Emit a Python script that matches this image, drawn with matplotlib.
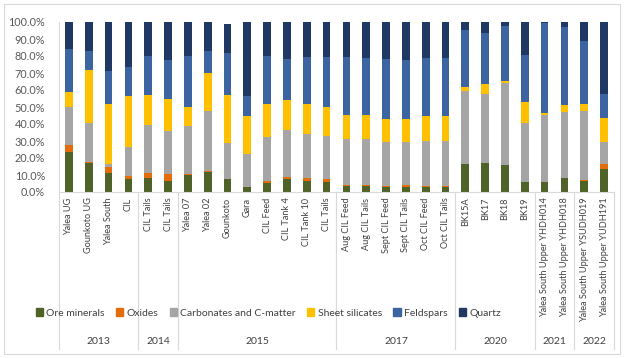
import matplotlib
matplotlib.use("Agg")
import matplotlib.pyplot as plt
from matplotlib.patches import Patch, Rectangle
from matplotlib.ticker import FuncFormatter
import numpy as np

plt.rcParams['font.family'] = ['Lato', 'DejaVu Sans']

labels = ["Yalea UG", "Gounkoto UG", "Yalea South", "CIL",
          "CIL Tails", "CIL Tails",
          "Yalea 07", "Yalea 02", "Gounkoto", "Gara", "CIL Feed", "CIL Tank 4", "CIL Tank 10", "CIL Tails",
          "Aug CIL Feed", "Aug CIL Tails", "Sept CIL Feed", "Sept CIL Tails", "Oct CIL Feed", "Oct CIL Tails",
          "BK15A", "BK17", "BK18", "BK19",
          "Yalea South Upper YHDH014", "Yalea South Upper YHDH018",
          "Yalea South Upper YSUDH019", "Yalea South Upper YUDH191"]
years = ["2013", "2014", "2015", "2017", "2020", "2021", "2022"]
year_counts = [4, 2, 8, 6, 4, 2, 2]

# values in %
ore = [23.7, 17.1, 11.4, 7.5, 8.2, 6.7, 10.2, 11.8, 7.6, 3.1, 5.3, 7.5, 6.7, 6.1,
       3.7, 3.7, 3.1, 3.1, 2.9, 3.0, 16.7, 17.1, 15.9, 5.7, 5.7, 8.4, 6.7, 13.3]
oxides = [3.9, 0.5, 3.3, 2.1, 3.2, 3.7, 0.2, 0.6, 0.2, 0.0, 1.4, 1.3, 1.3, 1.4,
          0.6, 0.6, 0.6, 0.8, 0.6, 0.6, 0.0, 0.0, 0.0, 0.0, 0.0, 0.0, 0.6, 3.4]
carb = [22.6, 23.2, 1.6, 16.7, 28.2, 25.5, 28.4, 35.2, 20.8, 19.3, 25.7, 27.7, 26.3, 25.4,
        26.9, 26.9, 25.9, 25.3, 26.7, 26.5, 42.9, 40.7, 48.2, 35.1, 39.8, 38.9, 40.2, 12.5]
sheet = [8.6, 31.0, 35.5, 30.2, 17.7, 18.8, 11.2, 22.6, 28.5, 22.3, 19.4, 17.6, 17.5, 17.1,
         14.1, 14.1, 13.5, 13.5, 14.3, 14.5, 2.4, 5.9, 1.4, 12.3, 0.8, 3.7, 4.5, 14.5]
feld = [25.1, 11.1, 19.2, 17.2, 22.7, 23.1, 30.0, 12.9, 24.9, 11.8, 28.2, 24.3, 27.8, 29.6,
        33.9, 33.5, 34.9, 35.1, 34.1, 34.0, 33.1, 30.0, 32.0, 27.3, 53.1, 46.1, 37.0, 14.1]
quartz = [16.1, 17.1, 29.0, 26.3, 20.0, 22.2, 20.0, 16.9, 17.0, 43.5, 20.0, 21.6, 20.4, 20.4,
          20.8, 21.2, 22.0, 22.2, 21.4, 21.4, 4.9, 6.3, 2.5, 19.6, 0.6, 2.9, 11.0, 42.2]

series = [("Ore minerals", ore, "#4F6228"),
          ("Oxides", oxides, "#E46C0A"),
          ("Carbonates and C-matter", carb, "#A5A5A5"),
          ("Sheet silicates", sheet, "#FFC000"),
          ("Feldspars", feld, "#3B64A0"),
          ("Quartz", quartz, "#1F3864")]

fig = plt.figure(figsize=(6.24, 3.58), dpi=100)
ax = fig.add_axes([59/624, 1-192/358, (614-59)/624, 170/358])

x = np.arange(len(labels))
bottom = np.zeros(len(labels))
handles = []
for name, vals, col in series:
    v = np.array(vals) / 100
    ax.bar(x, v, 0.39, bottom=bottom, color=col)
    bottom += v
    handles.append(Patch(color=col, label=name))

ax.set_xlim(-0.5, len(labels) - 0.5)
ax.set_ylim(0, 1)
ax.set_yticks(np.arange(0, 1.01, 0.1))
ax.yaxis.set_major_formatter(FuncFormatter(lambda v, p: "{:.1f}%".format(v*100)))
ax.set_xticks(x)
ax.set_xticklabels(labels, rotation=90, fontsize=6.6, color="#404040")
ax.tick_params(axis='x', length=0, pad=4)
ax.tick_params(axis='y', length=0, labelsize=7.8, labelcolor="#595959", pad=10)
for s in ["top", "right"]:
    ax.spines[s].set_visible(False)
ax.spines["bottom"].set_color("#D9D9D9")
ax.spines["left"].set_color("#D9D9D9")

# group dividers and year labels
tr = ax.get_xaxis_transform()
edges = np.concatenate([[0], np.cumsum(year_counts)]) - 0.5
for e in edges:
    ax.plot([e, e], [0, -0.924], color="#D9D9D9", lw=0.8, transform=tr, clip_on=False)
for i, yr in enumerate(years):
    ax.text((edges[i] + edges[i+1]) / 2, -0.882, yr, transform=tr, ha="center", va="center",
            fontsize=7.5, color="#404040")

fig.legend(handles=handles, loc="center", bbox_to_anchor=(0.43, 1-313/358), ncol=6,
           frameon=False, fontsize=7.5, handlelength=0.7, handleheight=0.7,
           handletextpad=0.3, columnspacing=1.1, labelcolor="#404040")

fig.patches.append(Rectangle((4/624, 4/358), 616/624, 350/358, transform=fig.transFigure,
                             fill=False, edgecolor="#D9D9D9", lw=0.8))

fig.savefig("out.png", dpi=100)
